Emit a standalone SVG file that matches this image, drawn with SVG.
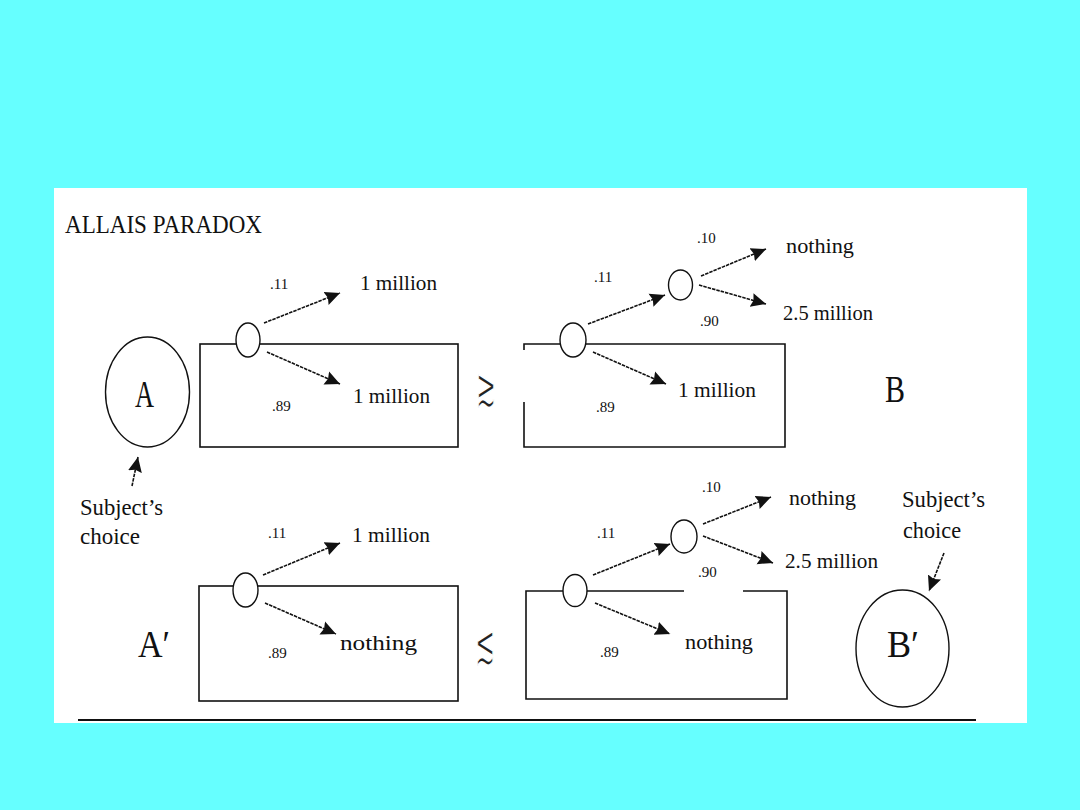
<svg xmlns="http://www.w3.org/2000/svg" width="1080" height="810" viewBox="0 0 1080 810">
<defs>
<style>
text{font-family:"Liberation Serif","Times New Roman",serif;fill:#111}
.p{font-size:15px}
.v{font-size:21px}
.big{font-size:38px}
.sc{font-size:24px}
.rel{font-family:"DejaVu Sans","DejaVu Serif",sans-serif;font-size:30px;fill:#222;stroke:#fff;stroke-width:0.9}
.box{fill:none;stroke:#111;stroke-width:1.6}
.nd{fill:#fff;stroke:#111;stroke-width:1.4}
.ar{stroke:#111;stroke-width:1.6;stroke-dasharray:3.5 1;fill:none}
</style>
<marker id="ah" markerUnits="userSpaceOnUse" markerWidth="18" markerHeight="16" refX="15" refY="8" orient="auto">
<path d="M0,1 L15,8 L0,15 L2,8 z" fill="#111"/>
</marker>
</defs>
<rect x="0" y="0" width="1080" height="810" fill="#66FFFF"/>
<rect x="54" y="188" width="973" height="535" fill="#fff"/>
<text x="65" y="233" style="font-size:26px" textLength="197" lengthAdjust="spacingAndGlyphs">ALLAIS PARADOX</text>

<g id="boxes">
<rect class="box" x="200" y="344" width="258" height="103"/>
<path class="box" d="M524,350 V344 H785 V447 H524 V402"/>
<rect class="box" x="199" y="586" width="259" height="115"/>
<path class="box" d="M684,591 H526 V699 H787 V591 H743"/>
</g>

<g id="connectors">
<line class="ar" x1="264" y1="323" x2="340" y2="293" marker-end="url(#ah)"/>
<line class="ar" x1="267" y1="352" x2="340" y2="384" marker-end="url(#ah)"/>
<line class="ar" x1="588" y1="324" x2="665" y2="295" marker-end="url(#ah)"/>
<line class="ar" x1="593" y1="352" x2="666" y2="384" marker-end="url(#ah)"/>
<line class="ar" x1="701" y1="276" x2="766" y2="249" marker-end="url(#ah)"/>
<line class="ar" x1="699" y1="285" x2="766" y2="304" marker-end="url(#ah)"/>
<line class="ar" x1="263" y1="575" x2="340" y2="543" marker-end="url(#ah)"/>
<line class="ar" x1="265" y1="603" x2="336" y2="634" marker-end="url(#ah)"/>
<line class="ar" x1="593" y1="575" x2="670" y2="544" marker-end="url(#ah)"/>
<line class="ar" x1="595" y1="603" x2="670" y2="634" marker-end="url(#ah)"/>
<line class="ar" x1="703" y1="524" x2="771" y2="497" marker-end="url(#ah)"/>
<line class="ar" x1="703" y1="536" x2="773" y2="563" marker-end="url(#ah)"/>
<line class="ar" x1="132" y1="486" x2="138" y2="457" marker-end="url(#ah)"/>
<line class="ar" x1="944" y1="553" x2="929" y2="591" marker-end="url(#ah)"/>
</g>

<g id="nodeA">
<ellipse class="nd" cx="147.5" cy="392" rx="42" ry="55"/>
<text class="big" x="135" y="407" textLength="19" lengthAdjust="spacingAndGlyphs">A</text>
</g>
<g id="nodeB">
<text class="big" x="885" y="402" textLength="20" lengthAdjust="spacingAndGlyphs">B</text>
</g>
<g id="nodeA2">
<text class="big" x="138" y="657" textLength="32" lengthAdjust="spacingAndGlyphs">A′</text>
</g>
<g id="nodeB2">
<ellipse class="nd" cx="902.5" cy="648.5" rx="46.5" ry="58.5"/>
<text class="big" x="887" y="657" textLength="32" lengthAdjust="spacingAndGlyphs">B′</text>
</g>

<g id="chance-nodes">
<ellipse class="nd" cx="248" cy="340" rx="12" ry="17"/>
<ellipse class="nd" cx="573" cy="340" rx="13" ry="17"/>
<ellipse class="nd" cx="680.5" cy="285" rx="12" ry="15"/>
<ellipse class="nd" cx="245.5" cy="590" rx="12.5" ry="17"/>
<ellipse class="nd" cx="575" cy="590.5" rx="12" ry="16"/>
<ellipse class="nd" cx="684" cy="536.5" rx="13" ry="16.5"/>
</g>

<g id="labels">
<text class="p" x="270" y="289">.11</text>
<text class="v" x="360" y="290" textLength="77" lengthAdjust="spacingAndGlyphs">1 million</text>
<text class="v" x="353" y="403" textLength="77" lengthAdjust="spacingAndGlyphs">1 million</text>
<text class="p" x="272" y="411">.89</text>

<text class="p" x="697" y="243">.10</text>
<text class="v" x="786" y="253" textLength="68" lengthAdjust="spacingAndGlyphs">nothing</text>
<text class="p" x="594" y="282">.11</text>
<text class="v" x="783" y="320" textLength="90" lengthAdjust="spacingAndGlyphs">2.5 million</text>
<text class="p" x="700" y="326">.90</text>
<text class="v" x="678" y="397" textLength="78" lengthAdjust="spacingAndGlyphs">1 million</text>
<text class="p" x="596" y="412">.89</text>

<text class="sc" x="80" y="515" textLength="83" lengthAdjust="spacingAndGlyphs">Subject’s</text>
<text class="sc" x="80" y="544" textLength="60" lengthAdjust="spacingAndGlyphs">choice</text>
<text class="p" x="268" y="538">.11</text>
<text class="v" x="352" y="542" textLength="78" lengthAdjust="spacingAndGlyphs">1 million</text>
<text class="p" x="268" y="658">.89</text>
<text class="v" x="340" y="650" textLength="77" lengthAdjust="spacingAndGlyphs">nothing</text>

<text class="p" x="702" y="492">.10</text>
<text class="v" x="789" y="505" textLength="67" lengthAdjust="spacingAndGlyphs">nothing</text>
<text class="p" x="597" y="538">.11</text>
<text class="v" x="785" y="568" textLength="93" lengthAdjust="spacingAndGlyphs">2.5 million</text>
<text class="p" x="698" y="577">.90</text>
<text class="p" x="600" y="657">.89</text>
<text class="v" x="685" y="649" textLength="68" lengthAdjust="spacingAndGlyphs">nothing</text>
<text class="sc" x="902" y="507" textLength="83" lengthAdjust="spacingAndGlyphs">Subject’s</text>
<text class="sc" x="903" y="538" textLength="58" lengthAdjust="spacingAndGlyphs">choice</text>

<text class="rel" transform="translate(476,406) scale(0.8,1.8)">≳</text>
<text class="rel" transform="translate(475,663) scale(0.8,1.8)">≲</text>
</g>
<line x1="78" y1="720" x2="976" y2="720" stroke="#111" stroke-width="2"/>
</svg>
